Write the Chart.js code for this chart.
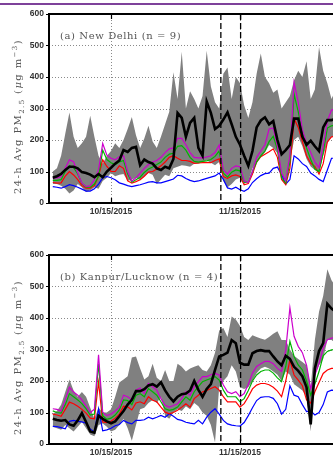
<!DOCTYPE html>
<html>
<head>
<meta charset="utf-8">
<script src="https://cdn.jsdelivr.net/npm/chart.js@4.4.1/dist/chart.umd.min.js"></script>
<style>
	html, body { margin: 0; padding: 0; background: #fff; }
	body { width: 333px; height: 455px; overflow: hidden; position: relative; }
	#rule { position: absolute; left: 0; top: 3px; width: 333px; height: 2px; background: #7e419a; }
	canvas { position: absolute; left: 0; }
	#delhi { top: 0; }
	#kanpur { top: 241px; }
</style>
</head>
<body>
<div id="rule"></div>
<canvas id="delhi" width="360" height="225"></canvas>
<canvas id="kanpur" width="360" height="225"></canvas>
<script>
// x values are days counted from 1 Oct 2015 (day 0), one value per day
var tickDays = [14, 45];
var tickLabels = ['10/15/2015', '11/15/2015'];
var eventDays = [40.4, 45.15];
var yGridValues = [100, 200, 300, 400, 500];

// (a) New Delhi
var delhiMean = [80,85,92,105,115,115,110,98,95,90, 82,92,82,100,112,125,135,168,162,175,
	178,120,138,130,125,110,105,115,110,140, 286,270,210,254,270,175,150,322,286,235,
	245,265,288,250,210,185,150,118,165,240, 262,272,250,260,200,155,168,184,268,268,
	210,185,198,180,165,240,263,263,268];
var delhiMagenta = [79,80,84,110,137,131,95,63,52,55, 74,105,189,152,142,137,147,150,100,70,
	80,95,110,122,130,135,145,160,172,175, 205,205,185,160,145,143,143,146,150,160,
	184,105,92,110,118,115,70,65,100,145, 165,185,235,238,180,95,70,150,383,320,
	232,190,160,130,112,180,260,295,298];
var delhiGreen = [72,72,74,100,118,112,92,62,50,50, 60,85,168,138,128,122,130,135,92,66,
	74,82,97,108,114,122,130,145,155,158, 180,182,168,145,132,130,132,134,138,148,
	165,95,82,98,105,102,66,66,100,130, 150,165,195,212,170,80,63,130,346,290,
	225,175,138,108,100,160,238,245,248];
var delhiRed = [65,63,64,85,100,89,74,55,47,47, 55,85,137,116,100,100,118,110,70,63,
	68,74,85,98,100,108,118,130,145,150, 142,135,135,132,126,127,128,128,128,135,
	140,84,78,86,89,84,58,62,92,130, 147,155,163,172,145,75,58,110,268,240,
	195,150,126,116,92,125,194,210,212];
var delhiBlue = [52,50,47,52,58,55,50,44,38,38, 45,60,80,84,80,74,64,60,55,52,
	55,58,62,66,68,64,64,68,72,76, 88,86,78,72,68,70,74,78,82,86,
	95,75,48,44,50,42,37,45,65,77, 87,93,95,110,114,90,60,75,150,140,
	125,116,95,86,75,68,105,142,142];
var delhiMax = [100,110,150,220,287,210,175,190,210,277, 210,150,125,150,165,190,175,200,235,273,
	215,175,205,245,195,175,210,250,290,415, 330,480,300,355,330,300,340,483,370,320,
	300,410,430,330,400,380,310,270,320,410, 475,400,380,350,360,300,320,340,390,420,
	400,450,330,360,495,420,380,330,360];
var delhiMin = [60,60,55,45,30,40,60,50,35,40, 50,45,70,80,95,85,90,92,70,75,
	80,72,85,95,90,60,75,90,85,110, 115,120,118,115,125,125,130,135,128,120,
	130,70,50,60,75,80,60,70,110,130, 147,160,184,175,158,85,70,130,200,210,
	180,140,116,105,95,150,190,210,210];

// (b) Kanpur/Lucknow
var kanpurMean = [80,76,74,76,62,58,75,98,70,40, 36,90,80,72,66,72,88,105,125,140,
	168,168,174,186,190,182,196,170,150,135, 150,158,160,170,200,172,150,175,190,235,
	278,283,290,330,320,258,252,252,288,295, 298,295,295,278,262,250,280,270,245,232,
	215,180,62,240,295,320,445,430,420];
var kanpurMagenta = [112,110,105,140,180,165,155,140,120,100, 110,283,101,90,95,105,117,155,150,140,
	171,178,160,192,182,171,144,123,117,122, 128,144,166,155,182,198,214,214,220,224,
	219,187,166,160,166,150,160,190,225,246, 255,262,262,255,240,230,299,433,342,310,
	290,250,176,219,256,304,331,336,338];
var kanpurGreen = [105,100,98,125,160,150,140,128,112,92, 95,255,90,78,82,92,108,140,138,125,
	155,160,150,176,166,155,134,112,107,110, 117,134,150,139,166,182,198,203,208,214,
	203,171,150,150,150,134,144,170,200,219, 230,235,235,225,210,198,246,326,278,251,
	235,200,155,190,230,280,294,299,300];
var kanpurRed = [95,92,88,110,133,128,120,110,98,82, 80,197,70,68,72,82,95,120,118,108,
	130,134,128,150,139,134,117,101,96,100, 107,117,128,117,144,155,166,170,176,182,
	171,150,134,134,134,117,128,150,175,187, 192,192,188,180,168,150,200,267,219,203,
	185,140,130,166,195,224,235,240,240];
var kanpurBlue = [56,55,52,48,72,75,72,70,66,48, 38,112,42,45,50,58,62,75,68,64,
	75,75,77,85,80,85,91,85,96,88, 78,75,69,66,64,75,64,85,101,112,
	95,75,64,60,58,57,68,90,115,138, 148,150,150,145,128,95,110,185,155,150,
	125,103,105,92,100,125,165,171,170];
var kanpurMax = [95,105,125,165,205,170,150,165,150,115, 80,115,100,100,110,150,195,205,215,275,
	278,240,205,215,255,210,200,235,200,200, 255,245,230,240,245,250,235,230,250,290,
	360,368,340,405,395,375,340,330,345,340, 335,331,340,350,358,330,330,300,280,270,
	260,250,180,330,420,470,555,520,500];
var kanpurMin = [55,50,45,60,50,40,55,70,50,30, 25,60,65,55,40,45,60,80,50,10,
	60,110,115,130,140,130,150,90,80,100, 110,105,120,110,130,120,100,90,60,5,
	180,200,215,250,230,180,175,180,200,225, 240,245,240,230,220,200,230,220,190,180,
	170,150,40,220,250,270,330,330,320];

// y-axis title pieces: text, font size, baseline shift (sub/superscript)
var yTitleParts = [
	{ text: '24-h Avg PM', size: 10, shift: 0 },
	{ text: '2.5', size: 7, shift: 2.5 },
	{ text: ' (', size: 10, shift: 0 },
	{ text: 'μ', size: 10, shift: 0, italic: true },
	{ text: 'g m', size: 10, shift: 0 },
	{ text: '−3', size: 7, shift: -4 },
	{ text: ')', size: 10, shift: 0 }
];

/**
 * Pairs each daily value with its day number so the linear x scale can place it.
 */
function pts(values) {
	return values.map(function (v, i) { return { x: i, y: v }; });
}

function makeDatasets(mean, magenta, green, red, blue, lo, hi) {
	return [
		{ data: pts(mean), borderColor: '#000000', borderWidth: 2.6, order: 0 },
		{ data: pts(magenta), borderColor: '#cc00cc', borderWidth: 1.2, order: 1 },
		{ data: pts(green), borderColor: '#00b400', borderWidth: 1.2, order: 2 },
		{ data: pts(red), borderColor: '#ff0000', borderWidth: 1.2, order: 3 },
		{ data: pts(blue), borderColor: '#0000ff', borderWidth: 1.2, order: 4 },
		{ data: pts(hi), borderWidth: 0, borderColor: 'rgba(0,0,0,0)', backgroundColor: 'rgb(128,128,128)', fill: '+1', order: 5 },
		{ data: pts(lo), borderWidth: 0, borderColor: 'rgba(0,0,0,0)', order: 6 }
	];
}

function line(ctx, x1, y1, x2, y2) {
	ctx.moveTo(x1, y1);
	ctx.lineTo(x2, y2);
}

// dotted grid, dashed event lines, the frame, tick marks and the texts inside the panel
var panelFrame = {
	id: 'panelFrame',
	beforeDatasetsDraw: function (chart) {
		var ctx = chart.ctx, a = chart.chartArea, xs = chart.scales.x, ys = chart.scales.y;
		ctx.save();
		ctx.strokeStyle = '#8a8a8a';
		ctx.lineWidth = 1;
		ctx.setLineDash([1, 2]);
		ctx.beginPath();
		yGridValues.forEach(function (v) {
			var py = Math.round(ys.getPixelForValue(v)) + 0.5;
			line(ctx, a.left, py, a.right, py);
		});
		tickDays.forEach(function (d) {
			var px = Math.round(xs.getPixelForValue(d)) + 0.5;
			line(ctx, px, a.top, px, a.bottom);
		});
		ctx.stroke();
		ctx.restore();
	},
	afterDatasetsDraw: function (chart, args, opts) {
		var ctx = chart.ctx, a = chart.chartArea, xs = chart.scales.x, ys = chart.scales.y;
		ctx.save();
		// event lines
		ctx.strokeStyle = '#000';
		ctx.lineWidth = 1.3;
		ctx.setLineDash([6, 3]);
		ctx.beginPath();
		eventDays.forEach(function (d) {
			var px = xs.getPixelForValue(d);
			line(ctx, px, a.top, px, a.bottom);
		});
		ctx.stroke();
		ctx.setLineDash([]);
		// frame
		ctx.lineWidth = 2;
		ctx.beginPath();
		line(ctx, a.left, a.top, a.right, a.top);
		line(ctx, a.left, a.top - 1, a.left, a.bottom + 1);
		line(ctx, a.left, a.bottom, a.right, a.bottom);
		ctx.stroke();
		// tick marks
		ctx.lineWidth = 1.2;
		ctx.beginPath();
		tickDays.forEach(function (d) {
			var px = Math.round(xs.getPixelForValue(d)) + 0.5;
			line(ctx, px, a.bottom, px, a.bottom - 5);
			line(ctx, px, a.top, px, a.top + 5);
		});
		ys.ticks.forEach(function (t) {
			var py = Math.round(ys.getPixelForValue(t.value)) + 0.5;
			line(ctx, a.left - 3, py, a.left, py);
		});
		ctx.stroke();
		// panel label
		ctx.fillStyle = '#555';
		ctx.font = '10px "DejaVu Serif"';
		ctx.letterSpacing = '0.6px';
		ctx.textBaseline = 'alphabetic';
		ctx.textAlign = 'left';
		ctx.fillText(opts.label, a.left + 11, a.top + 25);
		ctx.restore();
	},
	afterDraw: function (chart) {
		var ctx = chart.ctx, a = chart.chartArea;
		ctx.save();
		ctx.fillStyle = '#555';
		ctx.letterSpacing = '1.4px';
		ctx.textBaseline = 'alphabetic';
		ctx.textAlign = 'left';
		var total = 0;
		yTitleParts.forEach(function (p) {
			ctx.font = (p.italic ? 'italic ' : '') + p.size + 'px "DejaVu Serif"';
			p.w = ctx.measureText(p.text).width;
			total += p.w;
		});
		ctx.translate(21, (a.top + a.bottom) / 2 + 8);
		ctx.rotate(-Math.PI / 2);
		var cx = -total / 2;
		yTitleParts.forEach(function (p) {
			ctx.font = (p.italic ? 'italic ' : '') + p.size + 'px "DejaVu Serif"';
			ctx.fillText(p.text, cx, p.shift);
			cx += p.w;
		});
		ctx.restore();
	}
};

function drawPanel(canvasId, label, datasets) {
	var tickFont = { family: '"Liberation Sans", Arial, sans-serif', size: 8.5, weight: 'bold' };
	return new Chart(document.getElementById(canvasId), {
		type: 'line',
		data: { datasets: datasets },
		options: {
			responsive: false,
			animation: false,
			layout: { padding: { top: 14, left: 0, right: 0, bottom: 0 } },
			elements: { point: { radius: 0 }, line: { tension: 0, fill: false } },
			plugins: {
				legend: { display: false },
				tooltip: { enabled: false },
				panelFrame: { label: label }
			},
			scales: {
				x: {
					type: 'linear',
					bounds: 'data',
					min: -0.91,
					max: 73.85,
					grid: { display: false, drawTicks: false },
					border: { display: false },
					afterFit: function (s) { s.height = 22; },
					afterBuildTicks: function (s) {
						s.ticks = tickDays.map(function (d) { return { value: d }; });
					},
					ticks: {
						autoSkip: false,
						maxRotation: 0,
						padding: 4,
						color: '#333',
						font: tickFont,
						callback: function (v, i) { return tickLabels[i]; }
					}
				},
				y: {
					min: 0,
					max: 600,
					grid: { display: false, drawTicks: false },
					border: { display: false },
					afterFit: function (s) { s.width = 49; },
					ticks: { stepSize: 100, padding: 5, color: '#333', font: tickFont }
				}
			}
		},
		plugins: [panelFrame]
	});
}

drawPanel('delhi', '(a) New Delhi (n = 9)',
	makeDatasets(delhiMean, delhiMagenta, delhiGreen, delhiRed, delhiBlue, delhiMin, delhiMax));
drawPanel('kanpur', '(b) Kanpur/Lucknow (n = 4)',
	makeDatasets(kanpurMean, kanpurMagenta, kanpurGreen, kanpurRed, kanpurBlue, kanpurMin, kanpurMax));
</script>
</body>
</html>
